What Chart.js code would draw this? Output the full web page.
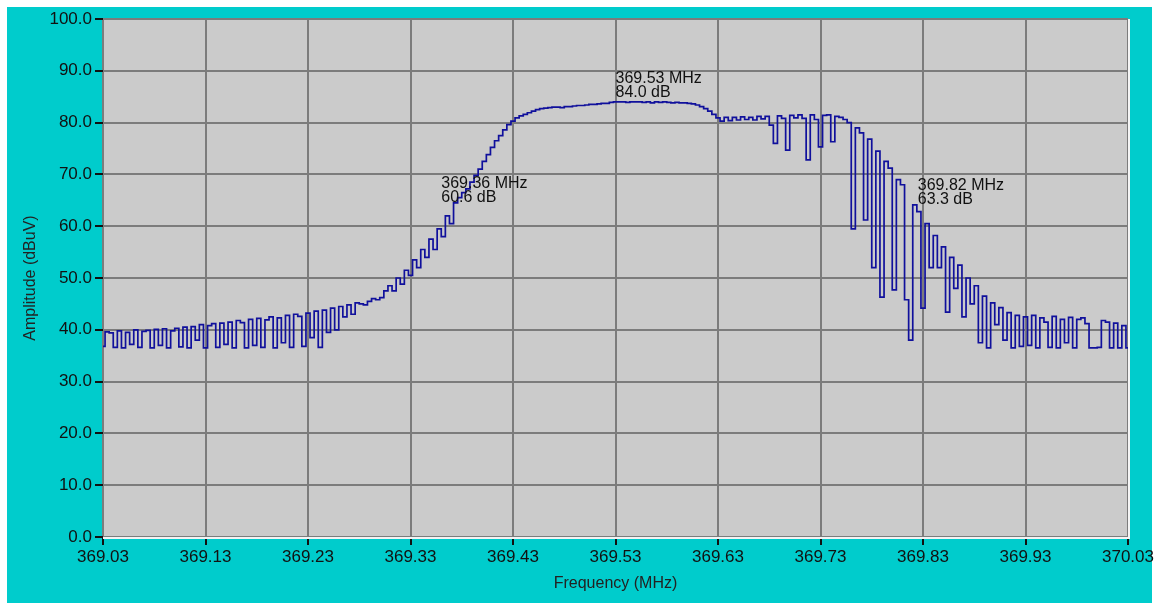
<!DOCTYPE html>
<html><head><meta charset="utf-8">
<script src="https://cdn.jsdelivr.net/npm/chart.js@4.4.1/dist/chart.umd.min.js"></script>
<style>html,body{margin:0;padding:0;background:#fff;overflow:hidden}</style>
</head><body>
<canvas id="c" width="1158" height="603"></canvas>
<script>
// Sweep definition (frequency of first sample and spacing between samples, MHz)
const sweepStartMHz = 369.03;
const sweepStepMHz = 0.004;
// Amplitude trace (dBuV), one value per sweep sample
const amplitudeDbuV = [
  36.8, 39.6, 39.4, 36.6, 39.8, 36.5, 39.5, 37.2, 40.0, 36.6,
  39.7, 39.9, 36.5, 40.1, 37.0, 40.2, 36.5, 39.8, 40.3, 36.7,
  40.5, 36.5, 40.6, 38.0, 41.0, 36.5, 40.8, 41.2, 36.6, 41.3,
  37.2, 41.5, 36.5, 41.8, 41.4, 36.5, 42.0, 37.0, 42.2, 36.6,
  41.9, 42.5, 36.5, 42.3, 37.5, 42.8, 36.6, 43.0, 42.6, 36.8,
  43.2, 38.5, 43.6, 36.6, 43.8, 39.5, 44.2, 40.0, 44.5, 42.5,
  44.8, 43.0, 45.2, 45.0, 44.8, 45.5, 46.0, 45.8, 46.2, 47.5,
  48.5, 47.5, 50.0, 48.8, 51.5, 50.5, 53.5, 52.0, 55.5, 54.0,
  57.5, 55.5, 59.5, 58.0, 62.0, 60.5, 64.5, 65.5, 66.5, 67.2,
  68.5, 69.8, 71.0, 72.5, 73.8, 75.2, 76.5, 77.5, 78.6, 79.6,
  80.3, 80.9, 81.3, 81.6, 81.9, 82.2, 82.5, 82.7, 82.8, 82.9,
  83.0, 83.0, 82.9, 83.1, 83.1, 83.2, 83.3, 83.3, 83.4, 83.5,
  83.5, 83.6, 83.7, 83.7, 83.9, 84.0, 84.0, 84.0, 83.9, 84.0,
  84.0, 84.0, 83.9, 84.0, 83.8, 84.0, 83.9, 84.0, 83.9, 83.8,
  83.9, 83.8, 83.8, 83.7, 83.6, 83.4, 83.1, 82.7, 82.2, 81.6,
  80.9, 80.3, 81.0, 80.4, 81.0, 80.5, 81.1, 80.6, 81.0, 80.5,
  81.2, 80.7, 81.2, 79.5, 76.0, 81.3, 80.8, 74.7, 81.4, 80.9,
  81.5, 80.8, 72.8, 81.5, 80.6, 75.3, 81.4, 81.5, 76.3, 81.2,
  81.0, 80.6, 80.0, 59.5, 79.0, 78.0, 61.2, 76.8, 52.0, 74.5,
  46.3, 72.5, 71.2, 47.7, 69.0, 68.0, 45.8, 38.0, 64.1, 62.8,
  44.2, 60.5, 52.0, 58.2, 52.0, 56.0, 43.4, 54.0, 48.0, 52.5,
  42.5, 50.0, 45.0, 48.5, 37.5, 46.5, 36.5, 45.2, 41.0, 44.3,
  38.0, 43.3, 36.5, 42.8, 36.8, 42.5, 37.0, 42.8, 36.5, 42.3,
  41.5, 36.6, 42.6, 36.5, 42.0, 37.5, 42.4, 36.5, 42.0, 42.3,
  41.2, 36.5, 36.5, 36.6, 41.8, 41.5, 36.5, 41.3, 36.5, 40.8, 36.5
];
// Axis ticks
const xTickValues = [369.03, 369.13, 369.23, 369.33, 369.43, 369.53, 369.63, 369.73, 369.83, 369.93, 370.03];
const yTickValues = [0, 10, 20, 30, 40, 50, 60, 70, 80, 90, 100];
// Markers
const markerFreqs = [369.53, 369.36, 369.82];
const markerLevels = [84.0, 60.6, 63.3];

// ---- styling / layout (not data) ----
const FONT = "'Liberation Sans', Arial, sans-serif";
const markerTextOffsets = [{dx: 0, dy: -5}, {dx: 0, dy: -21}, {dx: 5, dy: -5}];

const points = amplitudeDbuV.map((v, i) => ({ x: sweepStartMHz + i * sweepStepMHz, y: v }));

const framePlugin = {
  id: 'frame',
  beforeDraw(chart) {
    const ctx = chart.ctx, a = chart.chartArea;
    ctx.save();
    ctx.fillStyle = '#ffffff';
    ctx.fillRect(0, 0, chart.width, chart.height);
    ctx.fillStyle = '#00cccc';
    ctx.fillRect(7, 7, 1145, chart.height - 7);
    ctx.fillStyle = '#cbcbcb';
    ctx.fillRect(a.left, a.top, a.right - a.left, a.bottom - a.top);
    ctx.restore();
  },
  beforeDatasetsDraw(chart) {
    const ctx = chart.ctx, a = chart.chartArea;
    ctx.save();
    ctx.strokeStyle = '#f4f4f4';
    ctx.lineWidth = 2;
    ctx.beginPath();
    ctx.moveTo(a.left, a.bottom + 1); ctx.lineTo(a.right + 2, a.bottom + 1);
    ctx.moveTo(a.right + 1, a.top); ctx.lineTo(a.right + 1, a.bottom + 1);
    ctx.stroke();
    ctx.restore();
  },
  afterDatasetsDraw(chart) {
    const ctx = chart.ctx, xs = chart.scales.x, ys = chart.scales.y;
    ctx.save();
    ctx.fillStyle = '#111';
    ctx.font = '16px ' + FONT;
    ctx.textAlign = 'left';
    ctx.textBaseline = 'alphabetic';
    markerFreqs.forEach((f, i) => {
      const px = xs.getPixelForValue(f) + markerTextOffsets[i].dx;
      const py = ys.getPixelForValue(markerLevels[i]) + markerTextOffsets[i].dy;
      ctx.fillText(f.toFixed(2) + ' MHz', px, py - 14);
      ctx.fillText(markerLevels[i].toFixed(1) + ' dB', px, py);
    });
    ctx.restore();
  }
};

new Chart(document.getElementById('c'), {
  type: 'line',
  data: {
    datasets: [{
      data: points,
      borderColor: '#10109c',
      borderWidth: 1.7,
      pointRadius: 0,
      stepped: 'middle',
      fill: false
    }]
  },
  options: {
    responsive: false,
    devicePixelRatio: 1,
    animation: false,
    parsing: false,
    layout: { padding: { left: 0, top: 19, right: 30, bottom: 0 } },
    plugins: { legend: { display: false }, tooltip: { enabled: false } },
    scales: {
      x: {
        type: 'linear',
        min: xTickValues[0],
        max: xTickValues[xTickValues.length - 1],
        afterBuildTicks: s => { s.ticks = xTickValues.map(v => ({ value: v })); },
        afterFit: s => { s.height = 66; },
        grid: { color: '#7c7c7c', lineWidth: 2, tickColor: '#111', tickWidth: 2, tickLength: 8 },
        border: { display: false },
        ticks: { color: '#111', font: { family: FONT, size: 17 }, padding: 2, maxRotation: 0, autoSkip: false,
                 callback: v => Number(v).toFixed(2) },
        title: { display: true, text: 'Frequency (MHz)', color: '#222', font: { family: FONT, size: 16 },
                 padding: { top: 0, bottom: 10 } }
      },
      y: {
        min: yTickValues[0],
        max: yTickValues[yTickValues.length - 1],
        afterBuildTicks: s => { s.ticks = yTickValues.map(v => ({ value: v })); },
        afterFit: s => { s.width = 103; },
        grid: { color: '#7c7c7c', lineWidth: 2, tickColor: '#111', tickWidth: 2, tickLength: 8 },
        border: { display: false },
        ticks: { color: '#111', font: { family: FONT, size: 17 }, padding: 3,
                 callback: v => Number(v).toFixed(1) },
        title: { display: true, text: 'Amplitude (dBuV)', color: '#222', font: { family: FONT, size: 16 },
                 padding: { top: 21, bottom: 0 } }
      }
    }
  },
  plugins: [framePlugin]
});
</script>
</body></html>
